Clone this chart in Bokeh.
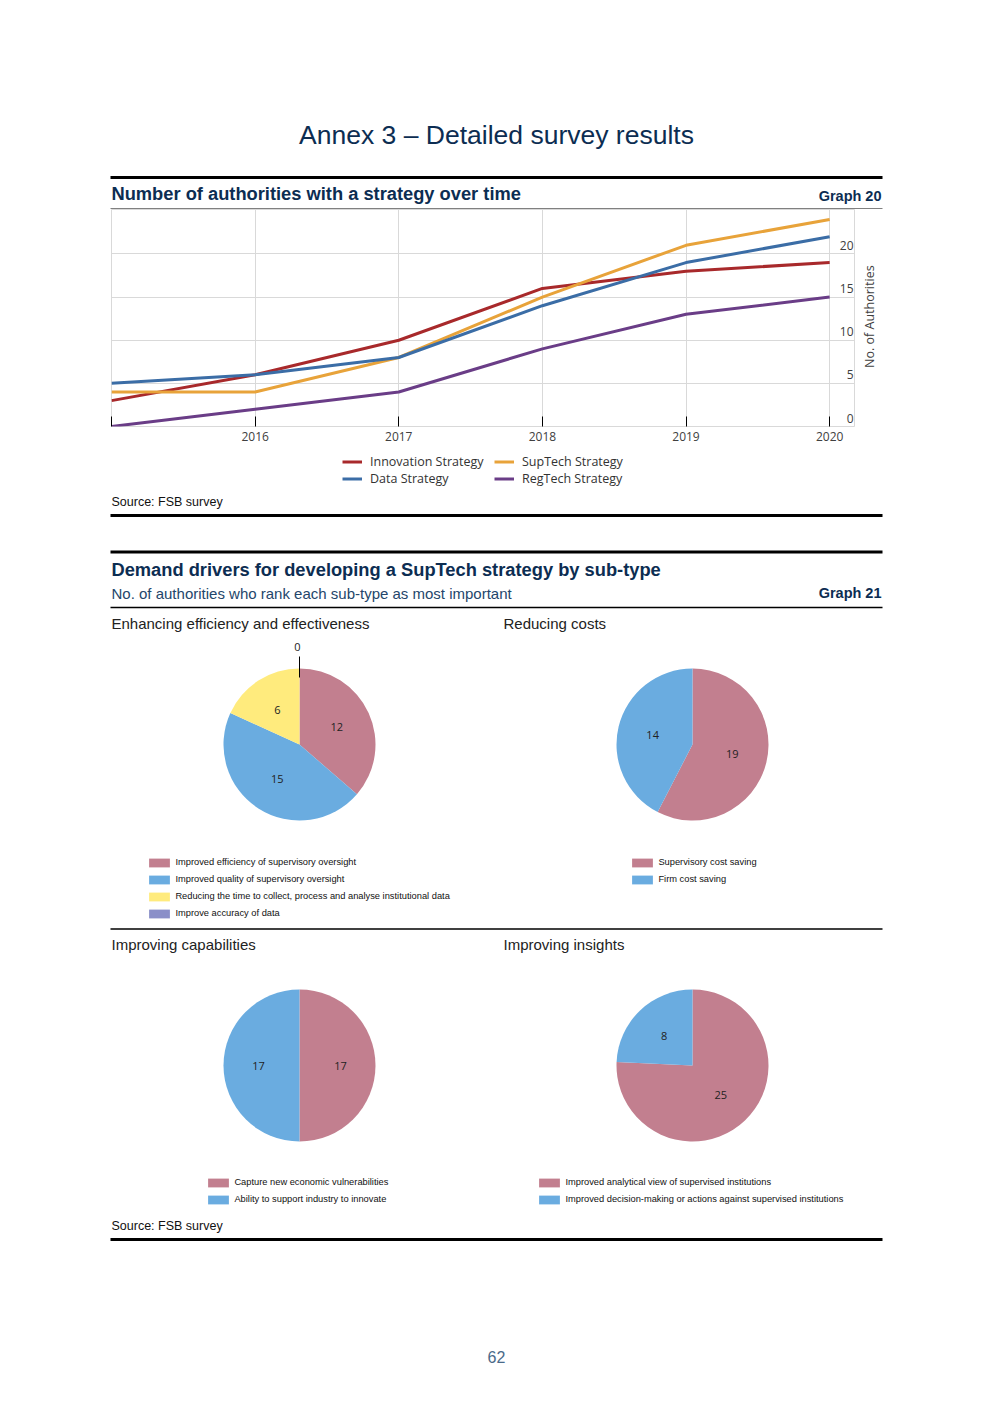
import numpy as np
from bokeh.plotting import figure
from bokeh.models import Range1d, FixedTicker, Legend, LegendItem, ColumnDataSource
from bokeh.layouts import column, row
from bokeh.core.properties import value
from bokeh.embed import file_html
from bokeh.resources import INLINE

# ---------------- data ----------------
years = [2015, 2016, 2017, 2018, 2019, 2020]
year_labels = {2015: "", 2016: "2016", 2017: "2017", 2018: "2018", 2019: "2019", 2020: "2020"}
innovation = [3, 6, 10, 16, 18, 19]
suptech = [4, 4, 8, 15, 21, 24]
data_strategy = [5, 6, 8, 14, 19, 22]
regtech = [0, 2, 4, 9, 13, 15]
series_names = ["Innovation Strategy", "SupTech Strategy", "Data Strategy", "RegTech Strategy"]
y_ticks = [0, 5, 10, 15, 20]
y_tick_labels = ["0", "5", "10", "15", "20"]
y_title = "No. of Authorities"

eff_labels = ["Improved efficiency of supervisory oversight",
              "Improved quality of supervisory oversight",
              "Reducing the time to collect, process and analyse institutional data",
              "Improve accuracy of data"]
eff_values = [12, 15, 6, 0]
cost_labels = ["Supervisory cost saving", "Firm cost saving"]
cost_values = [19, 14]
cap_labels = ["Capture new economic vulnerabilities", "Ability to support industry to innovate"]
cap_values = [17, 17]
ins_labels = ["Improved analytical view of supervised institutions",
              "Improved decision-making or actions against supervised institutions"]
ins_values = [25, 8]

# ---------------- styles ----------------
NAVY = "#0C2D52"
LINE_COLORS = ["#A8292B", "#E8A33A", "#3B6DA6", "#6A3D87"]
PIE_COLORS = ["#C27F8F", "#6AACE0", "#FFEB7D", "#8A8FC8"]
SANS = "Liberation Sans"
OPEN = "Open Sans"
W = 992
X_END = 2020.18
Y_END = 25.15


def canvas(top, bottom, left=0, right=W):
    p = figure(width=right - left, height=bottom - top, x_range=Range1d(left, right),
               y_range=Range1d(bottom, top), output_backend="svg", toolbar_location=None,
               x_axis_location=None, y_axis_location=None, min_border=0)
    p.grid.visible = False
    p.outline_line_color = None
    return p


def txt(p, x, y, s, size, color="#222222", bold=False, align="left", font=SANS, angle=0.0):
    p.text(x=[x], y=[y], text=[s], text_font=value(font), text_font_size=f"{size}px",
           text_color=color, text_font_style="bold" if bold else "normal",
           text_align=align, text_baseline="middle", angle=angle)


def rule(p, y, w):
    p.segment(x0=[110], y0=[y], x1=[882], y1=[y], line_color="black", line_width=w)


# ---------------- header ----------------
c1 = canvas(0, 209)
txt(c1, 496, 134, "Annex 3 \u2013 Detailed survey results", 26.5, NAVY, align="center")
rule(c1, 177, 3)
txt(c1, 111, 193, "Number of authorities with a strategy over time", 18.3, NAVY, bold=True)
txt(c1, 881, 195, "Graph 20", 14.5, NAVY, bold=True, align="right")
rule(c1, 208.5, 1)

# ---------------- line chart ----------------
p2 = figure(width=855, height=240, x_range=Range1d(2015, X_END), y_range=Range1d(0, Y_END),
            y_axis_location=None, output_backend="svg", toolbar_location=None,
            min_border_left=111, min_border_right=0, min_border_top=0, min_border_bottom=23)
p2.outline_line_color = "#D9D9D9"
p2.xgrid.ticker = FixedTicker(ticks=years)
p2.ygrid.ticker = FixedTicker(ticks=y_ticks)
p2.grid.grid_line_color = "#D9D9D9"
xa = p2.xaxis[0]
xa.ticker = FixedTicker(ticks=years)
xa.major_label_overrides = year_labels
xa.axis_line_color = None
xa.major_tick_in = 10
xa.major_tick_out = 0
xa.major_tick_line_color = "black"
xa.minor_tick_line_color = None
xa.major_label_text_font = OPEN
xa.major_label_text_font_size = "12px"
xa.major_label_text_color = "#404040"
xa.major_label_standoff = 5

for ys, col in zip([innovation, suptech, data_strategy, regtech], LINE_COLORS):
    p2.line(years, ys, line_color=col, line_width=3)
# y tick labels sit just above the gridlines, inside the frame at its right edge
p2.text(x=[X_END] * len(y_ticks), y=y_ticks, text=y_tick_labels, x_offset=-2, y_offset=-4,
        text_align="right", text_baseline="bottom", text_font=value(OPEN),
        text_font_size="12px", text_color="#404040")

# axis title to the right of the chart frame
side = canvas(209, 449, left=855, right=W)
txt(side, 869, 327.5, y_title, 12.5, "#404040", align="center", font=OPEN, angle=np.pi / 2)

# ---------------- legend + middle header ----------------
c3 = canvas(449, 632)
leg_r = [c3.line(x=[np.nan, np.nan], y=[np.nan, np.nan], line_color=col, line_width=3)
         for col in LINE_COLORS]
for idxs, xloc in (([0, 2], 342), ([1, 3], 494)):
    lg = Legend(items=[LegendItem(label=series_names[i], renderers=[leg_r[i]]) for i in idxs],
                location=(xloc, 145.5), orientation="vertical",
                glyph_width=20, glyph_height=17, label_height=17, label_standoff=8, spacing=0,
                padding=0, margin=0, border_line_color=None, background_fill_alpha=0,
                label_text_font=OPEN, label_text_font_size="12.5px", label_text_color="#333333")
    c3.add_layout(lg)
txt(c3, 111, 501, "Source: FSB survey", 12.5, "#111111")
rule(c3, 515, 3)
rule(c3, 551.5, 3)
txt(c3, 111, 569, "Demand drivers for developing a SupTech strategy by sub-type", 18.3, NAVY, bold=True)
txt(c3, 111, 593, "No. of authorities who rank each sub-type as most important", 15, "#24466B")
txt(c3, 881, 592, "Graph 21", 14.5, NAVY, bold=True, align="right")
rule(c3, 607, 1.5)
txt(c3, 111, 623, "Enhancing efficiency and effectiveness", 15, "#222222")
txt(c3, 503, 623, "Reducing costs", 15, "#222222")

# ---------------- pies ----------------
R = 76


def pie_fig(x0, x1, y0, y1, cx, cy, vals, labels, leg_loc):
    p = figure(width=x1 - x0, height=y1 - y0, x_range=Range1d(x0 - cx, x1 - cx),
               y_range=Range1d(cy - y1, cy - y0), output_backend="svg", toolbar_location=None,
               x_axis_location=None, y_axis_location=None, min_border=0)
    p.grid.visible = False
    p.outline_line_color = None
    total = float(sum(vals))
    cum = np.cumsum([0] + list(vals))
    start = np.pi / 2 - 2 * np.pi * cum[:-1] / total
    end = np.pi / 2 - 2 * np.pi * cum[1:] / total
    cols = PIE_COLORS[:len(vals)]
    radius = [R if v > 0 else 0 for v in vals]
    src = ColumnDataSource(dict(start=start, end=end, color=cols, radius=radius))
    r = p.wedge(x=0, y=0, radius="radius", start_angle="start", end_angle="end", direction="clock",
                fill_color="color", line_color=None, source=src)
    mid = (start + end) / 2
    lx, ly, lt = [], [], []
    for m, v in zip(mid, vals):
        if v > 0:
            lx.append(41 * np.cos(m)); ly.append(41 * np.sin(m)); lt.append(str(v))
        else:
            p.segment(x0=[(R - 9) * np.cos(m)], y0=[(R - 9) * np.sin(m)],
                      x1=[(R + 12) * np.cos(m)], y1=[(R + 12) * np.sin(m)],
                      line_color="black", line_width=1)
            lx.append((R + 22) * np.cos(m) - 2); ly.append((R + 22) * np.sin(m)); lt.append(str(v))
    p.text(x=lx, y=ly, text=lt, text_font=value(OPEN), text_font_size="11px", text_color="#222222",
           text_align="center", text_baseline="middle")
    lg = Legend(items=[LegendItem(label=labels[i], renderers=[r], index=i) for i in range(len(vals))],
                location=leg_loc, glyph_width=26, glyph_height=11, label_height=17, spacing=0,
                padding=0, margin=0, label_standoff=3, border_line_color=None, background_fill_alpha=0,
                label_text_font=SANS, label_text_font_size="9.3px", label_text_color="#111111")
    p.add_layout(lg)
    return p


pa1 = pie_fig(0, 496, 632, 926, 299, 744, eff_values, eff_labels, (146.4, 4.5))
pa2 = pie_fig(496, 992, 632, 926, 692, 744, cost_values, cost_labels, (133.4, 38.5))

c4 = canvas(926, 955)
rule(c4, 928.5, 1.5)
txt(c4, 111, 944, "Improving capabilities", 15, "#222222")
txt(c4, 503, 944, "Improving insights", 15, "#222222")

pb1 = pie_fig(0, 496, 955, 1212, 299, 1065, cap_values, cap_labels, (205.4, 4.5))
pb2 = pie_fig(496, 992, 955, 1212, 692, 1065, ins_values, ins_labels, (40.4, 4.5))

c5 = canvas(1212, 1400)
txt(c5, 111, 1225, "Source: FSB survey", 12.5, "#111111")
rule(c5, 1239, 3)
txt(c5, 496, 1356, "62", 16, "#4A6A8A", align="center")

layout = column(c1, row(p2, side), c3, row(pa1, pa2), c4, row(pb1, pb2), c5)
open("out.html", "w").write(file_html(layout, INLINE))
